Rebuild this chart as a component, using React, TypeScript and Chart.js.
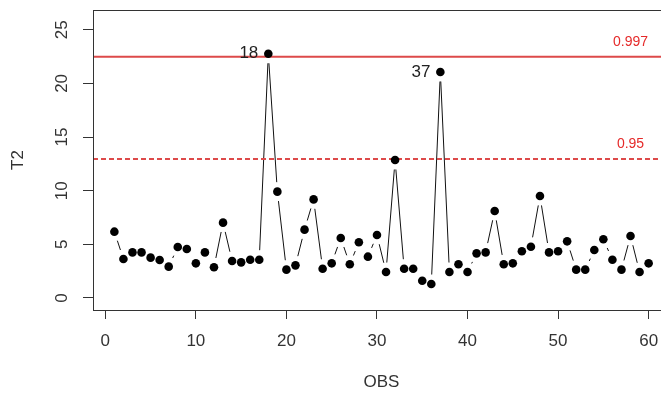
import React, { useEffect, useRef } from "react";
import { Chart, registerables } from "chart.js";

Chart.register(...registerables);

const OBS = [
  1, 2, 3, 4, 5, 6, 7, 8, 9, 10, 11, 12, 13, 14, 15, 16, 17, 18, 19, 20,
  21, 22, 23, 24, 25, 26, 27, 28, 29, 30, 31, 32, 33, 34, 35, 36, 37, 38, 39, 40,
  41, 42, 43, 44, 45, 46, 47, 48, 49, 50, 51, 52, 53, 54, 55, 56, 57, 58, 59, 60,
];
const T2 = [
  6.18, 3.63, 4.25, 4.25, 3.76, 3.54, 2.92, 4.75, 4.57, 3.23,
  4.25, 2.86, 7.02, 3.45, 3.32, 3.57, 3.57, 22.76, 9.91, 2.64,
  3.04, 6.37, 9.19, 2.73, 3.23, 5.59, 3.14, 5.19, 3.85, 5.87,
  2.42, 12.86, 2.73, 2.73, 1.61, 1.3, 21.06, 2.42, 3.14, 2.42,
  4.16, 4.25, 8.11, 3.14, 3.23, 4.35, 4.78, 9.5, 4.25, 4.35,
  5.28, 2.64, 2.64, 4.47, 5.47, 3.57, 2.64, 5.78, 2.42, 3.23,
];
const LIMIT_997 = 22.48;
const LIMIT_95 = 12.95;
const LIMIT_LABELS = ["0.997", "0.95"];
const FLAGGED_OBS = [18, 37];
const X_RANGE = [-1.36, 62.36];
const Y_RANGE = [-1.12, 26.84];
const X_STEP = 10;
const Y_STEP = 5;

const TEXT = "#333333";
const RED_LINE = "#dd4a4a";
const RED_TEXT = "#e52a2a";
const FONT = "'Liberation Sans', Arial, sans-serif";

const rPlotPlugin = {
  id: "rPlot",
  beforeDatasetsDraw(chart: any) {
    const ctx = chart.ctx;
    const meta = chart.getDatasetMeta(0);
    const gap = 9.5;
    ctx.save();
    ctx.strokeStyle = "#111";
    ctx.lineWidth = 1;
    for (let i = 0; i < meta.data.length - 1; i++) {
      const p = meta.data[i];
      const q = meta.data[i + 1];
      const dx = q.x - p.x;
      const dy = q.y - p.y;
      const d = Math.hypot(dx, dy);
      if (d <= 2 * gap) continue;
      const ux = dx / d;
      const uy = dy / d;
      ctx.beginPath();
      ctx.moveTo(p.x + ux * gap, p.y + uy * gap);
      ctx.lineTo(q.x - ux * gap, q.y - uy * gap);
      ctx.stroke();
    }
    ctx.restore();
  },
  afterDraw(chart: any) {
    const ctx = chart.ctx;
    const { left, top, right, bottom } = chart.chartArea;
    const xs = chart.scales.x;
    const ys = chart.scales.y;
    ctx.save();
    ctx.strokeStyle = "#333";
    ctx.lineWidth = 1;
    ctx.strokeRect(Math.round(left) + 0.5, Math.round(top) + 0.5, Math.round(right - left), Math.round(bottom - top));

    ctx.fillStyle = "#222";
    ctx.font = `17px ${FONT}`;
    ctx.textAlign = "right";
    ctx.textBaseline = "middle";
    FLAGGED_OBS.forEach((o) => {
      const px = xs.getPixelForValue(o);
      const py = ys.getPixelForValue(T2[o - 1]);
      ctx.fillText(String(o), px - 10, py);
    });

    ctx.fillStyle = RED_TEXT;
    ctx.font = `14px ${FONT}`;
    ctx.textAlign = "center";
    [LIMIT_997, LIMIT_95].forEach((lim, i) => {
      ctx.fillText(LIMIT_LABELS[i], xs.getPixelForValue(58), ys.getPixelForValue(lim + 1.4));
    });
    ctx.restore();
  },
};

export default function App() {
  const ref = useRef<HTMLCanvasElement | null>(null);
  useEffect(() => {
    if (!ref.current) return;
    const chart = new Chart(ref.current, {
      type: "scatter",
      data: {
        datasets: [
          {
            data: OBS.map((o, i) => ({ x: o, y: T2[i] })),
            pointRadius: 4.3,
            pointBackgroundColor: "#000",
            pointBorderColor: "#000",
            pointBorderWidth: 0,
            showLine: false,
          },
          {
            data: [
              { x: X_RANGE[0], y: LIMIT_997 },
              { x: X_RANGE[1], y: LIMIT_997 },
            ],
            showLine: true,
            borderColor: RED_LINE,
            borderWidth: 2,
            pointRadius: 0,
          },
          {
            data: [
              { x: X_RANGE[0], y: LIMIT_95 },
              { x: X_RANGE[1], y: LIMIT_95 },
            ],
            showLine: true,
            borderColor: RED_LINE,
            borderWidth: 2,
            borderDash: [5, 3],
            pointRadius: 0,
          },
        ],
      },
      options: {
        responsive: false,
        animation: false,
        devicePixelRatio: 1,
        layout: { autoPadding: false, padding: { top: 10, right: 10, left: 0, bottom: 0 } },
        plugins: { legend: { display: false }, tooltip: { enabled: false } },
        scales: {
          x: {
            type: "linear",
            min: X_RANGE[0],
            max: X_RANGE[1],
            border: { display: false },
            grid: { drawOnChartArea: false, drawTicks: true, tickLength: 9, tickColor: "#333", tickWidth: 1 },
            ticks: { stepSize: X_STEP, includeBounds: false, color: TEXT, font: { size: 17, family: FONT }, padding: 12 },
            title: { display: true, text: "OBS", color: TEXT, font: { size: 17, family: FONT }, padding: { top: 0, bottom: 1 } },
            afterFit: (s: any) => {
              s.height = 84;
              s.paddingLeft = 0;
              s.paddingRight = 0;
              s.paddingTop = 0;
              s.paddingBottom = 0;
            },
          },
          y: {
            type: "linear",
            min: Y_RANGE[0],
            max: Y_RANGE[1],
            border: { display: false },
            grid: { drawOnChartArea: false, drawTicks: true, tickLength: 10, tickColor: "#333", tickWidth: 1 },
            ticks: {
              stepSize: Y_STEP,
              includeBounds: false,
              color: TEXT,
              font: { size: 17, family: FONT },
              minRotation: 90,
              maxRotation: 90,
              crossAlign: "center",
              padding: 11,
            },
            title: { display: true, text: "T2", color: TEXT, font: { size: 17, family: FONT }, padding: { top: 8, bottom: 0 } },
            afterFit: (s: any) => {
              s.width = 93;
              s.paddingLeft = 0;
              s.paddingRight = 0;
              s.paddingTop = 0;
              s.paddingBottom = 0;
            },
          },
        },
      },
      plugins: [rPlotPlugin],
    } as any);
    return () => chart.destroy();
  }, []);
  return (
    <div style={{ position: "fixed", left: 0, top: 0, width: 661, height: 394, overflow: "hidden", background: "#fff" }}>
      <canvas ref={ref} width={680} height={394} style={{ display: "block", width: 680, height: 394 }} />
    </div>
  );
}
